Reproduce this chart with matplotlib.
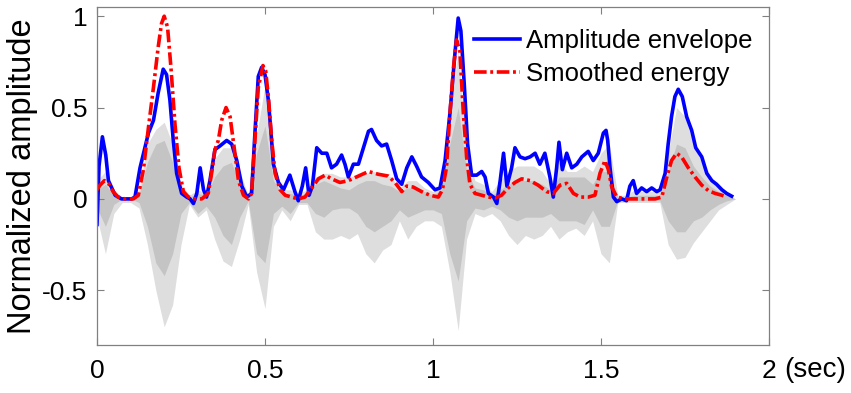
import matplotlib.pyplot as plt

# -----------------------------
# DATA
# -----------------------------

env_t = [0.0, 0.006, 0.016, 0.026, 0.034, 0.054, 0.073, 0.103, 0.113, 0.128, 0.153, 0.168,
         0.182, 0.197, 0.207, 0.217, 0.227, 0.237, 0.252, 0.267, 0.277, 0.287, 0.297, 0.307,
         0.317, 0.326, 0.336, 0.351, 0.366, 0.386, 0.401, 0.416, 0.431, 0.446, 0.46, 0.47,
         0.48, 0.49, 0.50, 0.51, 0.518, 0.525, 0.54, 0.555, 0.574, 0.589, 0.599, 0.611,
         0.621, 0.631, 0.641, 0.654, 0.669, 0.684, 0.698, 0.713, 0.728, 0.738, 0.748, 0.763,
         0.778, 0.793, 0.808, 0.817, 0.832, 0.847, 0.862, 0.877, 0.892, 0.907, 0.922, 0.937,
         0.951, 0.966, 0.986, 1.006, 1.021, 1.036, 1.051, 1.066, 1.075, 1.083, 1.093, 1.103,
         1.115, 1.13, 1.145, 1.155, 1.165, 1.18, 1.19, 1.2, 1.21, 1.22, 1.234, 1.244,
         1.259, 1.274, 1.289, 1.304, 1.318, 1.333, 1.348, 1.358, 1.368, 1.375, 1.385, 1.398,
         1.413, 1.428, 1.443, 1.462, 1.477, 1.492, 1.507, 1.515, 1.52, 1.527, 1.537, 1.547,
         1.562, 1.576, 1.586, 1.596, 1.606, 1.621, 1.636, 1.651, 1.666, 1.676, 1.691, 1.70,
         1.71, 1.72, 1.73, 1.742, 1.755, 1.77, 1.782, 1.80, 1.815, 1.83, 1.844, 1.86,
         1.874, 1.889]
env_v = [-0.14, 0.18, 0.34, 0.24, 0.10, 0.02, 0.0, 0.0, 0.01, 0.17, 0.36, 0.43,
         0.58, 0.71, 0.68, 0.54, 0.32, 0.14, 0.03, 0.01, 0.0, -0.025, 0.03, 0.17,
         0.05, 0.01, 0.10, 0.27, 0.29, 0.32, 0.30, 0.21, 0.07, 0.01, 0.03, 0.36,
         0.67, 0.72, 0.68, 0.54, 0.36, 0.19, 0.09, 0.05, 0.13, 0.04, -0.01, 0.07,
         0.17, 0.02, 0.07, 0.28, 0.25, 0.25, 0.17, 0.19, 0.24, 0.19, 0.12, 0.19,
         0.19, 0.28, 0.37, 0.38, 0.32, 0.29, 0.30, 0.21, 0.11, 0.08, 0.17, 0.23,
         0.18, 0.12, 0.09, 0.05, 0.06, 0.21, 0.48, 0.81, 0.99, 0.92, 0.63, 0.30,
         0.13, 0.13, 0.15, 0.12, 0.03, 0.01, -0.025, 0.10, 0.25, 0.07, 0.17, 0.28,
         0.23, 0.22, 0.23, 0.25, 0.19, 0.25, 0.12, 0.01, 0.17, 0.31, 0.16, 0.25,
         0.17, 0.19, 0.23, 0.26, 0.21, 0.25, 0.36, 0.375, 0.32, 0.17, 0.01, -0.015,
         0.0, -0.01, 0.07, 0.10, 0.03, 0.06, 0.04, 0.06, 0.04, 0.05, 0.14, 0.30,
         0.45, 0.56, 0.60, 0.56, 0.45, 0.375, 0.28, 0.23, 0.14, 0.10, 0.08, 0.05,
         0.03, 0.015]

energy_t = [0.0, 0.009, 0.022, 0.034, 0.048, 0.063, 0.083, 0.108, 0.123, 0.138, 0.153, 0.168,
            0.182, 0.192, 0.20, 0.21, 0.22, 0.232, 0.244, 0.257, 0.272, 0.292, 0.312, 0.331,
            0.341, 0.351, 0.361, 0.371, 0.384, 0.396, 0.409, 0.421, 0.436, 0.451, 0.46, 0.47,
            0.48, 0.494, 0.502, 0.51, 0.52, 0.53, 0.545, 0.56, 0.579, 0.599, 0.619, 0.639,
            0.659, 0.679, 0.698, 0.723, 0.748, 0.778, 0.808, 0.837, 0.867, 0.887, 0.907, 0.922,
            0.941, 0.966, 0.991, 1.016, 1.028, 1.04, 1.051, 1.061, 1.07, 1.08, 1.09, 1.10,
            1.11, 1.125, 1.145, 1.165, 1.185, 1.204, 1.224, 1.244, 1.264, 1.289, 1.313, 1.338,
            1.358, 1.378, 1.398, 1.418, 1.438, 1.462, 1.482, 1.497, 1.512, 1.522, 1.532, 1.547,
            1.571, 1.601, 1.631, 1.661, 1.681, 1.696, 1.71, 1.725, 1.74, 1.76, 1.78, 1.80,
            1.82, 1.84, 1.86, 1.874]
energy_v = [0.05, 0.075, 0.10, 0.085, 0.04, 0.01, 0.0, 0.0, 0.02, 0.16, 0.39, 0.61,
            0.83, 0.96, 1.0, 0.94, 0.72, 0.41, 0.17, 0.04, 0.01, 0.0, 0.0, 0.03,
            0.14, 0.27, 0.32, 0.43, 0.50, 0.45, 0.27, 0.10, 0.02, 0.0, 0.03, 0.32,
            0.61, 0.73, 0.70, 0.56, 0.32, 0.14, 0.05, 0.02, 0.01, 0.0, 0.01, 0.06,
            0.11, 0.13, 0.11, 0.09, 0.10, 0.125, 0.15, 0.135, 0.125, 0.09, 0.04, 0.07,
            0.065, 0.04, 0.02, 0.01, 0.05, 0.17, 0.48, 0.72, 0.87, 0.81, 0.48, 0.23,
            0.08, 0.03, 0.02, 0.01, 0.005, 0.02, 0.06, 0.09, 0.11, 0.10, 0.075, 0.04,
            0.03, 0.075, 0.085, 0.03, 0.01, 0.01, 0.02, 0.14, 0.21, 0.16, 0.065, 0.01,
            0.0, 0.0, 0.0, 0.0, 0.01, 0.12, 0.21, 0.25, 0.23, 0.17, 0.12, 0.075,
            0.045, 0.03, 0.02, 0.01]

# speech waveform, outer (light) and inner (darker) extent
wave_t = [0.0, 0.025, 0.05, 0.075, 0.1, 0.125, 0.15, 0.175, 0.2, 0.225, 0.25, 0.275,
          0.3, 0.325, 0.35, 0.375, 0.4, 0.425, 0.45, 0.475, 0.5, 0.525, 0.55, 0.575,
          0.6, 0.625, 0.65, 0.675, 0.7, 0.725, 0.75, 0.775, 0.8, 0.825, 0.85, 0.875,
          0.9, 0.925, 0.95, 0.975, 1.0, 1.025, 1.05, 1.075, 1.1, 1.125, 1.15, 1.175,
          1.2, 1.225, 1.25, 1.275, 1.3, 1.325, 1.35, 1.375, 1.4, 1.425, 1.45, 1.475,
          1.5, 1.525, 1.55, 1.575, 1.6, 1.625, 1.65, 1.675, 1.7, 1.725, 1.75, 1.775,
          1.8, 1.825, 1.85, 1.875, 1.9]
wave_hi = [0.10, 0.15, 0.03, 0.01, 0.01, 0.05, 0.30, 0.38, 0.42, 0.30, 0.08, 0.02,
           0.05, 0.03, 0.22, 0.28, 0.28, 0.15, 0.02, 0.35, 0.62, 0.20, 0.05, 0.05,
           0.03, 0.05, 0.12, 0.14, 0.14, 0.12, 0.12, 0.13, 0.14, 0.15, 0.14, 0.12,
           0.06, 0.10, 0.10, 0.06, 0.04, 0.08, 0.45, 0.82, 0.25, 0.10, 0.08, 0.04,
           0.10, 0.15, 0.18, 0.18, 0.18, 0.15, 0.08, 0.20, 0.15, 0.15, 0.18, 0.15,
           0.25, 0.30, 0.02, 0.02, 0.05, 0.04, 0.04, 0.04, 0.25, 0.50, 0.45, 0.30,
           0.20, 0.12, 0.08, 0.03, 0.0]
wave_lo = [-0.10, -0.30, -0.08, -0.02, -0.02, -0.05, -0.25, -0.50, -0.70, -0.58, -0.25, -0.03,
           -0.10, -0.06, -0.22, -0.34, -0.37, -0.22, -0.03, -0.40, -0.60, -0.15, -0.06, -0.12,
           -0.03, -0.03, -0.18, -0.22, -0.22, -0.20, -0.22, -0.19, -0.30, -0.35, -0.28, -0.25,
           -0.12, -0.22, -0.15, -0.12, -0.12, -0.15, -0.40, -0.72, -0.22, -0.08, -0.10, -0.08,
           -0.12, -0.20, -0.25, -0.20, -0.22, -0.20, -0.15, -0.22, -0.18, -0.16, -0.20, -0.12,
           -0.30, -0.35, -0.02, -0.02, -0.02, -0.02, -0.02, -0.02, -0.25, -0.33, -0.32, -0.24,
           -0.18, -0.12, -0.06, -0.03, 0.0]
core_hi = [0.05, 0.08, 0.02, 0.0, 0.0, 0.02, 0.20, 0.30, 0.32, 0.20, 0.04, 0.01,
           0.03, 0.02, 0.12, 0.18, 0.20, 0.08, 0.01, 0.25, 0.40, 0.10, 0.03, 0.03,
           0.02, 0.03, 0.08, 0.10, 0.08, 0.06, 0.05, 0.08, 0.10, 0.10, 0.08, 0.07,
           0.04, 0.06, 0.06, 0.04, 0.02, 0.05, 0.30, 0.50, 0.15, 0.06, 0.05, 0.02,
           0.05, 0.08, 0.10, 0.10, 0.10, 0.08, 0.05, 0.12, 0.12, 0.12, 0.12, 0.08,
           0.15, 0.15, 0.01, 0.01, 0.02, 0.02, 0.02, 0.02, 0.15, 0.30, 0.28, 0.18,
           0.12, 0.07, 0.04, 0.02, 0.0]
core_lo = [-0.05, -0.15, -0.03, 0.0, 0.0, -0.02, -0.15, -0.35, -0.42, -0.30, -0.08, -0.02,
           -0.08, -0.04, -0.10, -0.20, -0.25, -0.10, -0.01, -0.30, -0.35, -0.08, -0.04, -0.08,
           -0.02, -0.02, -0.08, -0.10, -0.06, -0.05, -0.05, -0.08, -0.15, -0.18, -0.15, -0.12,
           -0.06, -0.10, -0.08, -0.06, -0.06, -0.08, -0.30, -0.45, -0.12, -0.05, -0.06, -0.04,
           -0.06, -0.10, -0.12, -0.10, -0.10, -0.10, -0.08, -0.12, -0.12, -0.12, -0.14, -0.06,
           -0.15, -0.15, -0.01, -0.01, -0.01, -0.01, -0.01, -0.01, -0.12, -0.18, -0.18, -0.12,
           -0.10, -0.06, -0.03, -0.01, 0.0]

x_ticks = [0, 0.5, 1, 1.5, 2]
x_labels = ["0", "0.5", "1", "1.5", "2"]
y_ticks = [-0.5, 0, 0.5, 1]
y_labels = ["-0.5", "0", "0.5", "1"]

# -----------------------------
# PLOT
# -----------------------------

plt.rcParams['font.family'] = ['Liberation Sans', 'DejaVu Sans']

fig = plt.figure(figsize=(8.51, 3.93), dpi=100)
ax = fig.add_axes([0.114, 0.122, 0.7896, 0.86])

ax.fill_between(wave_t, wave_lo, wave_hi, color='#dedede', linewidth=0)
ax.fill_between(wave_t, core_lo, core_hi, color='#c4c4c4', linewidth=0)

ax.plot(env_t, env_v, color='#0000ff', linewidth=2.6, label='Amplitude envelope')
ax.plot(energy_t, energy_v, color='#ff0000', linewidth=2.6,
        linestyle=(0, (3.5, 1.0, 0.8, 1.0)), label='Smoothed energy')

ax.set_xlim(0, 2)
ax.set_ylim(-0.8, 1.05)
ax.set_xticks(x_ticks)
ax.set_xticklabels(x_labels)
ax.set_yticks(y_ticks)
ax.set_yticklabels(y_labels)
ax.tick_params(direction='in', length=5, width=0.8, color='#808080',
               labelsize=19, top=True, right=True)
ax.tick_params(axis='x', pad=10)
ax.tick_params(axis='y', pad=7)
for sp in ax.spines.values():
    sp.set_color('#808080')
    sp.set_linewidth(0.9)

ax.set_ylabel('Normalized amplitude', fontsize=23.5, labelpad=3)
fig.text(0.921, 0.058, '(sec)', fontsize=20, va='center', ha='left')

ax.legend(loc='upper left', bbox_to_anchor=(0.545, 0.965), frameon=False,
          fontsize=18.5, handlelength=1.8, handletextpad=0.25, labelspacing=0.35,
          borderaxespad=0)

fig.savefig('out.png', dpi=100)
